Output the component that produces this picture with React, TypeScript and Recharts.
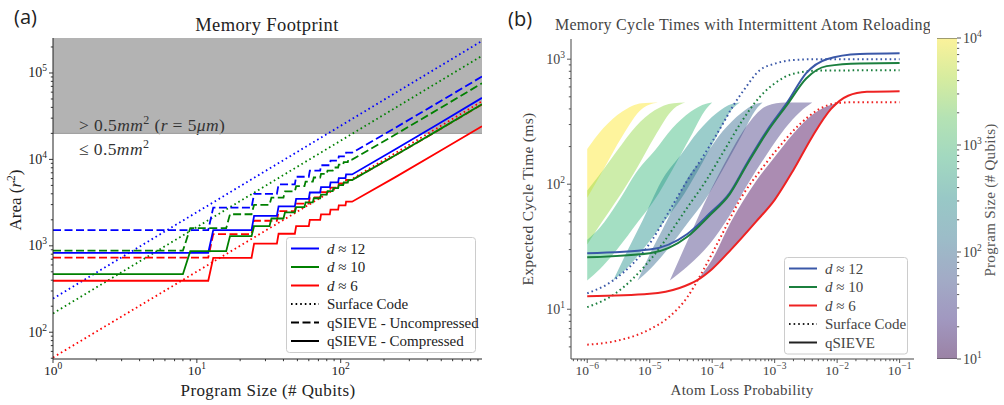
import React from "react"
import { ComposedChart, Line, Area, XAxis, YAxis, ReferenceArea, ReferenceLine } from "recharts"

const SERIF = '"Liberation Serif", "DejaVu Serif", serif'

// ---------- (a) Memory Footprint ----------
const sizeDomain = [1, 960]
const areaDomain = [49, 254000]
const areaLimit = 20000 // 0.5 mm^2 with r = 5 um

// surface code (dotted)
const surface12 = [{ x: 1, y: 245 }, { x: 960, y: 235000 }]
const surface10 = [{ x: 1, y: 165 }, { x: 960, y: 158000 }]
const surface6 = [{ x: 1, y: 51 }, { x: 960, y: 47000 }]

// qSIEVE staircase levels: one level per block of qubits (12 for d~12 / d~6, 8 for d~10)
const uncomp12 = [1520, 2770, 4000, 5150, 6300, 7430, 8560, 9690, 10820, 11950]
const uncomp12Tail = [{ x: 240, y: 23250 }, { x: 480, y: 45850 }, { x: 960, y: 91000 }]
const comp12 = [830, 1520, 2220, 2860, 3500, 4140, 4780, 5420, 6060, 6700]
const comp12Tail = [{ x: 240, y: 13100 }, { x: 480, y: 25900 }, { x: 960, y: 51500 }]
const uncomp10 = [880, 1600, 2320, 2980, 3620, 4260, 4900, 5540, 6170, 6800, 7430, 8060, 8690, 9320, 9950]
const uncomp10Tail = [{ x: 240, y: 19400 }, { x: 480, y: 38300 }, { x: 960, y: 76100 }]
const comp10 = [470, 868, 1295, 1690, 2070, 2440, 2810, 3180, 3550, 3920, 4290, 4660, 5030, 5400, 5770]
const comp10Tail = [{ x: 240, y: 11170 }, { x: 480, y: 21970 }, { x: 960, y: 43570 }]
const uncomp6 = [730, 1365, 1950, 2520, 3080, 3630, 4180, 4720, 5260, 5800]
const uncomp6Tail = [{ x: 240, y: 11150 }, { x: 480, y: 21850 }, { x: 960, y: 43250 }]
const comp6 = [394, 727, 1060, 1380, 1690, 2000, 2310, 2620, 2930, 3240]
const comp6Tail = [{ x: 240, y: 6240 }, { x: 480, y: 12240 }, { x: 960, y: 24240 }]

// ---------- (b) Memory cycle times ----------
const lossDomain = [5.5e-7, 0.17]
const timeDomain = [4, 1450]

const surfaceB12 = [[1e-6, 13.4], [2.6e-6, 17], [1.1e-5, 36], [2.1e-5, 62], [4e-5, 107], [7e-5, 164], [1.5e-4, 307], [2.1e-4, 413], [3.2e-4, 565], [5.8e-4, 817], [1e-3, 920], [2e-3, 985], [5e-3, 1000], [1e-1, 1000]]
const surfaceB10 = [[1e-6, 10.4], [2.6e-6, 13], [1.1e-5, 26], [4e-5, 65], [8e-5, 107], [1.6e-4, 190], [3e-4, 320], [5.8e-4, 500], [1e-3, 640], [2e-3, 765], [5e-3, 810], [1e-1, 816]]
const surfaceB6 = [[1e-6, 5.2], [3e-6, 5.6], [1e-5, 6.9], [2e-5, 8.6], [4e-5, 12.5], [7e-5, 20], [1.3e-4, 36], [3e-4, 80], [6e-4, 130], [1e-3, 180], [2.5e-3, 300], [5e-3, 395], [1e-2, 445], [2e-2, 453], [1e-1, 453]]
const sieveB12 = [[1e-6, 28], [1e-5, 30], [4e-5, 40], [9e-5, 58], [1.9e-4, 85], [3.6e-4, 147], [7.6e-4, 270], [1.6e-3, 453], [3.2e-3, 773], [6.8e-3, 1000], [2.3e-2, 1100], [1e-1, 1115]]
const sieveB10 = [[1e-6, 26], [1e-5, 28], [4e-5, 38], [9e-5, 56], [1.9e-4, 83], [3.6e-4, 143], [7.6e-4, 262], [1.6e-3, 435], [3.2e-3, 700], [6.8e-3, 880], [2.3e-2, 925], [1e-1, 930]]
const sieveB6 = [[1e-6, 12.7], [1e-5, 13.3], [3e-5, 14.8], [5.7e-5, 17], [1e-4, 21], [2e-4, 30], [5e-4, 50], [1e-3, 75], [2e-3, 130], [4e-3, 240], [8e-3, 400], [1.5e-2, 510], [3e-2, 548], [1e-1, 555]]

// shaded ranges per program size: [loss, low, high]
const band1e4 = [[1e-6, 78, 191], [1.8e-6, 130, 280], [3.6e-6, 240, 380], [7.5e-6, 400, 445], [1.35e-5, 450, 450]]
const band3e3 = [[1e-6, 33, 89], [1.5e-6, 45, 115], [3e-6, 75, 185], [6e-6, 130, 290], [1.2e-5, 240, 390], [2.4e-5, 400, 445], [3.7e-5, 450, 450]]
const band1e3 = [[1e-6, 17, 36], [1.6e-6, 21, 45], [3e-6, 30, 70], [6.5e-6, 50, 130], [1.2e-5, 75, 185], [2.3e-5, 130, 280], [4.5e-5, 240, 380], [8e-5, 400, 440], [1e-4, 450, 450]]
const band3e2 = [[2.6e-6, 17, 17], [4.2e-6, 21, 28], [7.8e-6, 30, 52], [1.7e-5, 50, 115], [3.1e-5, 75, 170], [6e-5, 130, 265], [1.17e-4, 240, 370], [2.1e-4, 400, 440], [2.8e-4, 450, 450]]
const band1e2 = [[6.4e-6, 17, 17], [1.02e-5, 21, 28], [1.92e-5, 30, 52], [4.2e-5, 50, 115], [7.7e-5, 75, 170], [1.47e-4, 130, 265], [2.9e-4, 240, 370], [5.1e-4, 400, 440], [6.4e-4, 450, 450]]
const band3e1 = [[2.1e-5, 17, 17], [4e-5, 22, 35], [9e-5, 33, 85], [1.85e-4, 55, 170], [3.7e-4, 100, 300], [7.6e-4, 175, 425], [1.47e-3, 280, 450], [2.5e-3, 375, 450], [4e-3, 450, 450]]
const band1e1 = [[5.7e-5, 17, 17], [1e-4, 21, 25], [2e-4, 30, 50], [5e-4, 50, 105], [1e-3, 75, 165], [2e-3, 130, 255], [4e-3, 240, 360], [8e-3, 400, 432], [1.08e-2, 450, 450]]

const bands = [band1e4, band3e3, band1e3, band3e2, band1e2, band3e1, band1e1]
const bandColors = ["#fde725", "#90d743", "#35b779", "#21918c", "#31688e", "#443983", "#440154"]

// colorbar: program size 10 .. 10^4
const colorbarRange = [{ x: 0, lo: 10, hi: 10000 }, { x: 1, lo: 10, hi: 10000 }]
const colorbarStops = ["#fbf29a", "#d6ec9f", "#b4e2b4", "#a2d8c0", "#98c8c6", "#9cbcc8", "#a2abc6", "#a198c0", "#9b82a5"]

const BLUE = "#0000ff", GREEN = "#008000", RED = "#ff0000"
const BLUE_B = "#3a58a8", GREEN_B = "#1b7f3e", RED_B = "#ee2222"

// ---------- helpers ----------
const pts = (arr: number[][]) => arr.map(([x, y]) => ({ x, y }))
const range = (arr: number[][]) => arr.map(([x, lo, hi]) => ({ x, lo, hi }))
const stairs = (levels: number[], block: number, tail: { x: number; y: number }[]) => {
  const out: { x: number; y: number }[] = []
  levels.forEach((v, k) => {
    out.push({ x: k === 0 ? 1 : k * block + 1, y: v })
    out.push({ x: (k + 1) * block, y: v })
  })
  return out.concat(tail)
}
const logTicks = (lo: number, hi: number) => {
  const t: number[] = []
  for (let e = -8; e <= 6; e++) for (let m = 1; m < 10; m++) {
    const v = Number((m * Math.pow(10, e)).toPrecision(6))
    if (v >= lo * 0.999 && v <= hi * 1.001) t.push(v)
  }
  return t
}
const isMajor = (v: number) => Math.abs(Math.log10(v) - Math.round(Math.log10(v))) < 1e-6
const expo = (v: number) => {
  const e = Math.round(Math.log10(v))
  return e < 0 ? "\u2212" + -e : String(e)
}

const LeftTick = (p: any) => {
  const m = isMajor(p.payload.value)
  return (
    <g>
      <line x1={p.x} x2={p.x - (m ? 4 : 2.2)} y1={p.y} y2={p.y} stroke={p.c} strokeWidth={0.9} />
      {m && (
        <text x={p.x - 6} y={p.y + 4.5} textAnchor="end" fontFamily={SERIF} fontSize={14} fill={p.c}>
          10<tspan dy={-6} fontSize={9.5}>{expo(p.payload.value)}</tspan>
        </text>
      )}
    </g>
  )
}
const BottomTick = (p: any) => {
  const m = isMajor(p.payload.value)
  return (
    <g>
      <line x1={p.x} x2={p.x} y1={p.y} y2={p.y + (m ? 4 : 2.2)} stroke={p.c} strokeWidth={0.9} />
      {m && (
        <text x={p.x} y={p.y + 16} textAnchor="middle" fontFamily={SERIF} fontSize={13.5} fill={p.c}>
          10<tspan dy={-6} fontSize={9.5}>{expo(p.payload.value)}</tspan>
        </text>
      )}
    </g>
  )
}
const RightTick = (p: any) => {
  const m = isMajor(p.payload.value)
  return (
    <g>
      <line x1={p.x} x2={p.x + (m ? 4 : 2.2)} y1={p.y} y2={p.y} stroke={p.c} strokeWidth={0.9} />
      {m && (
        <text x={p.x + 6} y={p.y + 4.5} textAnchor="start" fontFamily={SERIF} fontSize={14} fill={p.c}>
          10<tspan dy={-6} fontSize={9.5}>{expo(p.payload.value)}</tspan>
        </text>
      )}
    </g>
  )
}

const DOT = "1.6 3"
const DASH = "8 3.5"

type Item = { d?: string; label?: string; color: string; dash?: string }
const legendA: Item[] = [
  { d: "12", color: BLUE },
  { d: "10", color: GREEN },
  { d: "6", color: RED },
  { label: "Surface Code", color: "#000", dash: DOT },
  { label: "qSIEVE - Uncompressed", color: "#000", dash: DASH },
  { label: "qSIEVE - Compressed", color: "#000" },
]
const legendB: Item[] = [
  { d: "12", color: BLUE_B },
  { d: "10", color: GREEN_B },
  { d: "6", color: RED_B },
  { label: "Surface Code", color: "#222", dash: DOT },
  { label: "qSIEVE", color: "#222" },
]

// legend box drawn straight into the chart svg
const LegendBox = ({ x, y, w, items, color }: { x: number; y: number; w: number; items: Item[]; color: string }) => (
  <g>
    <rect x={x + 0.5} y={y + 0.5} width={w} height={items.length * 18.5 + 4} rx={3} fill="#fff" fillOpacity={0.85} stroke="#cccccc" />
    {items.map((it, i) => {
      const cy = y + 11.5 + i * 18.5
      return (
        <g key={i}>
          <line x1={x + 5} x2={x + 33} y1={cy} y2={cy} stroke={it.color} strokeWidth={2} strokeDasharray={it.dash} />
          <text x={x + 41} y={cy + 5} fontFamily={SERIF} fontSize={15} fill={color}>
            {it.d ? (
              <>
                <tspan fontStyle="italic">d</tspan> {"\u2248 " + it.d}
              </>
            ) : (
              it.label
            )}
          </text>
        </g>
      )
    })}
  </g>
)

const GrayLabel = () => (
  <g>
    <text x={79} y={131} fontFamily={SERIF} fontSize={17.5} fill="#333" letterSpacing={0.4}>
      &gt; 0.5<tspan fontStyle="italic">mm</tspan><tspan dy={-7} fontSize={12}>2</tspan>
      <tspan dy={7}>{"  ("}</tspan><tspan fontStyle="italic">r</tspan> = 5<tspan fontStyle="italic">&mu;m</tspan>)
    </text>
  </g>
)

const lineProps = { dot: false, activeDot: false, isAnimationActive: false, dataKey: "y" } as const

const PanelA = () => (
  <ComposedChart width={500} height={405} margin={{ top: 38, right: 18, bottom: 0, left: 0 }}>
    <XAxis type="number" dataKey="x" scale="log" domain={sizeDomain} allowDataOverflow ticks={logTicks(1, 960)} interval={0}
      height={46} tickSize={0} tickMargin={0} tickLine={false} axisLine={{ stroke: "#222" }} tick={(p: any) => <BottomTick {...p} c="#222" />} />
    <XAxis xAxisId="top" orientation="top" type="number" scale="log" domain={sizeDomain} allowDataOverflow height={0} tick={false} tickLine={false} axisLine={{ stroke: "#222" }} />
    <YAxis type="number" dataKey="y" scale="log" domain={areaDomain} allowDataOverflow ticks={logTicks(49, 254000)} interval={0}
      width={53} tickSize={0} tickMargin={0} tickLine={false} axisLine={{ stroke: "#222" }} tick={(p: any) => <LeftTick {...p} c="#222" />} />
    <YAxis yAxisId="right" orientation="right" type="number" scale="log" domain={areaDomain} allowDataOverflow width={0} tick={false} tickLine={false} axisLine={{ stroke: "#222" }} />
    <ReferenceArea x1={1} x2={960} y1={areaLimit} y2={254000} fill="#b3b3b3" fillOpacity={1} stroke="none" label={<GrayLabel />} />
    <ReferenceLine y={areaLimit} stroke="#9a9a9a" strokeWidth={1} />

    <Line data={surface12} stroke={BLUE} strokeWidth={1.8} strokeDasharray={DOT} {...lineProps} />
    <Line data={surface10} stroke={GREEN} strokeWidth={1.8} strokeDasharray={DOT} {...lineProps} />
    <Line data={surface6} stroke={RED} strokeWidth={1.8} strokeDasharray={DOT} {...lineProps} />
    <Line data={stairs(uncomp12, 12, uncomp12Tail)} stroke={BLUE} strokeWidth={1.8} strokeDasharray={DASH} {...lineProps} />
    <Line data={stairs(uncomp10, 8, uncomp10Tail)} stroke={GREEN} strokeWidth={1.8} strokeDasharray={DASH} {...lineProps} />
    <Line data={stairs(uncomp6, 12, uncomp6Tail)} stroke={RED} strokeWidth={1.8} strokeDasharray={DASH} {...lineProps} />
    <Line data={stairs(comp12, 12, comp12Tail)} stroke={BLUE} strokeWidth={1.8} {...lineProps} />
    <Line data={stairs(comp10, 8, comp10Tail)} stroke={GREEN} strokeWidth={1.8} {...lineProps} />
    <Line data={stairs(comp6, 12, comp6Tail)} stroke={RED} strokeWidth={1.8} {...lineProps} />

    <text x={267} y={31} textAnchor="middle" fontFamily={SERIF} fontSize={18.5} fill="#222" letterSpacing={0.4}>Memory Footprint</text>
    <text x={79} y={155} fontFamily={SERIF} fontSize={17.5} fill="#333" letterSpacing={0.4}>
      &le; 0.5<tspan fontStyle="italic">mm</tspan><tspan dy={-7} fontSize={12}>2</tspan>
    </text>
    <text x={268} y={396} textAnchor="middle" fontFamily={SERIF} fontSize={17} fill="#222" letterSpacing={0.4}>Program Size (# Qubits)</text>
    <text transform="translate(21,200) rotate(-90)" textAnchor="middle" fontFamily={SERIF} fontSize={17} fill="#222">
      Area (<tspan fontStyle="italic">r</tspan><tspan dy={-6} fontSize={11.5}>2</tspan><tspan dy={6}>)</tspan>
    </text>
    <LegendBox x={286} y={237} w={189} items={legendA} color="#222" />
  </ComposedChart>
)

const PanelB = () => (
  <ComposedChart width={430} height={405} margin={{ top: 39, right: 16, bottom: 0, left: 0 }}>
    <XAxis type="number" dataKey="x" scale="log" domain={lossDomain} allowDataOverflow ticks={logTicks(5.5e-7, 0.17)} interval={0}
      height={46} tickSize={0} tickMargin={0} tickLine={false} axisLine={{ stroke: "#444" }} tick={(p: any) => <BottomTick {...p} c="#444" />} />
    <XAxis xAxisId="top" orientation="top" type="number" scale="log" domain={lossDomain} allowDataOverflow height={0} tick={false} tickLine={false} axisLine={{ stroke: "#444" }} />
    <YAxis type="number" scale="log" domain={timeDomain} allowDataOverflow ticks={logTicks(4.5, 1450)} interval={0}
      width={71} tickSize={0} tickMargin={0} tickLine={false} axisLine={{ stroke: "#444" }} tick={(p: any) => <LeftTick {...p} c="#444" />} />
    <YAxis yAxisId="right" orientation="right" type="number" scale="log" domain={timeDomain} allowDataOverflow width={0} tick={false} tickLine={false} axisLine={{ stroke: "#444" }} />

    {bands.map((b, i) => (
      <Area key={i} data={range(b)} dataKey={(d: any) => [d.lo, d.hi]} type="monotone" fill={bandColors[i]} fillOpacity={0.45}
        stroke="none" dot={false} activeDot={false} isAnimationActive={false} />
    ))}

    <Line data={pts(surfaceB12)} type="monotone" stroke={BLUE_B} strokeWidth={2} strokeDasharray={DOT} {...lineProps} />
    <Line data={pts(surfaceB10)} type="monotone" stroke={GREEN_B} strokeWidth={2} strokeDasharray={DOT} {...lineProps} />
    <Line data={pts(surfaceB6)} type="monotone" stroke={RED_B} strokeWidth={2} strokeDasharray={DOT} {...lineProps} />
    <Line data={pts(sieveB12)} type="monotone" stroke={BLUE_B} strokeWidth={2} {...lineProps} />
    <Line data={pts(sieveB10)} type="monotone" stroke={GREEN_B} strokeWidth={2} {...lineProps} />
    <Line data={pts(sieveB6)} type="monotone" stroke={RED_B} strokeWidth={2} {...lineProps} />

    <text x={243} y={30} textAnchor="middle" fontFamily={SERIF} fontSize={16} fill="#444" letterSpacing={0.3}>Memory Cycle Times with Intermittent Atom Reloading</text>
    <text x={242} y={395} textAnchor="middle" fontFamily={SERIF} fontSize={15} fill="#444" letterSpacing={0.3}>Atom Loss Probability</text>
    <text transform="translate(33,199) rotate(-90)" textAnchor="middle" fontFamily={SERIF} fontSize={15.5} fill="#444" letterSpacing={0.3}>Expected Cycle Time (ms)</text>
    <LegendBox x={284} y={257} w={123} items={legendB} color="#444" />
  </ComposedChart>
)

const Colorbar = () => (
  <ComposedChart width={67} height={405} margin={{ top: 38, right: 0, bottom: 46, left: 0 }}>
    <defs>
      <linearGradient id="cbGrad" x1="0" y1="0" x2="0" y2="1">
        {colorbarStops.map((c, i) => (
          <stop key={i} offset={`${(i / (colorbarStops.length - 1)) * 100}%`} stopColor={c} />
        ))}
      </linearGradient>
    </defs>
    <XAxis type="number" dataKey="x" domain={[0, 1]} hide />
    <YAxis orientation="right" type="number" scale="log" domain={[10, 10000]} allowDataOverflow ticks={logTicks(10, 10000)} interval={0}
      width={47} tickSize={0} tickMargin={0} tickLine={false} axisLine={false} tick={(p: any) => <RightTick {...p} c="#444" />} />
    <Area data={colorbarRange} dataKey={(d: any) => [d.lo, d.hi]} type="linear" fill="url(#cbGrad)" fillOpacity={1}
      stroke="#444" strokeWidth={1} dot={false} activeDot={false} isAnimationActive={false} />
    <text transform="translate(58,200) rotate(-90)" textAnchor="middle" fontFamily={SERIF} fontSize={15} fill="#555" letterSpacing={0.3}>Program Size (# Qubits)</text>
  </ComposedChart>
)

export default function App() {
  return (
    <div style={{ position: "absolute", left: 0, top: 0, width: 1004, height: 405, background: "#fff" }}>
      <div style={{ position: "absolute", left: 0, top: 0 }}>
        <PanelA />
      </div>
      <div style={{ position: "absolute", left: 500, top: 0 }}>
        <PanelB />
      </div>
      <div style={{ position: "absolute", left: 937, top: 0 }}>
        <Colorbar />
      </div>
      <div style={{ position: "absolute", left: 14, top: 3, fontFamily: '"Open Sans", "DejaVu Sans", sans-serif', fontSize: 20, color: "#222" }}>(a)</div>
      <div style={{ position: "absolute", left: 508, top: 5, fontFamily: '"Open Sans", "DejaVu Sans", sans-serif', fontSize: 20, color: "#222" }}>(b)</div>
    </div>
  )
}
